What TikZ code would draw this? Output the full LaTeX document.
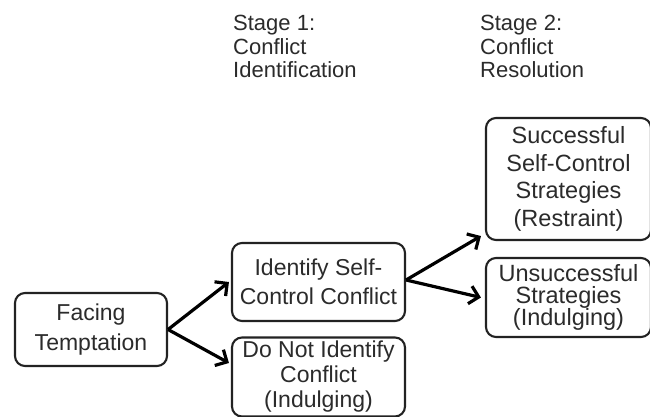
\documentclass[tikz,border=0pt]{standalone}
\usepackage{fontspec}
\setmainfont{Liberation Sans}
\usetikzlibrary{arrows.meta}
\definecolor{txt}{HTML}{2B2B2B}
\definecolor{edge}{HTML}{222222}
\begin{document}
\begin{tikzpicture}[x=1pt,y=-1pt,
 box/.style={draw=edge, line width=2.1pt, rounded corners=10pt, align=center, text=txt, inner sep=0pt},
 head/.style={align=left, text=txt, inner sep=0pt, anchor=north west, font=\fontsize{22}{23.5}\selectfont},
 arr/.style={line width=3.2pt, -{Straight Barb[length=9pt,width=18pt]}, draw=black}]
\useasboundingbox (0,0) rectangle (650,417);
\fill[white] (0,0) rectangle (650,417);
\node[head] (s1) at (233,15) {Stage 1:\\Conflict\\Identification};
\node[head] (s2) at (480,15) {Stage 2:\\Conflict\\Resolution};
\node[box, minimum width=152pt, minimum height=73pt, font=\fontsize{23}{30}\selectfont] (face) at (91,329.5) {Facing\\Temptation};
\node[box, minimum width=173pt, minimum height=78pt, font=\fontsize{23}{29}\selectfont] (ident) at (318.5,282) {Identify Self-\\Control Conflict};
\node[box, minimum width=173pt, minimum height=79pt, font=\fontsize{23}{25}\selectfont] (donot) at (318.5,377) {Do Not Identify\\Conflict\\(Indulging)};
\node[box, minimum width=165pt, minimum height=122pt, font=\fontsize{23.5}{27.5}\selectfont] (succ) at (568.5,179) {Successful\\Self-Control\\Strategies\\(Restraint)};
\node[box, minimum width=165pt, minimum height=79pt, font=\fontsize{23.5}{22}\selectfont] (unsucc) at (568.5,297.5) {Unsuccessful\\Strategies\\(Indulging)};
\draw[arr] (face.east) -- ([xshift=-2pt]ident.west);
\draw[arr] (face.east) -- ([xshift=-2pt,yshift=14pt]donot.west);
\draw[arr] ([yshift=2pt]ident.east) -- ([xshift=-4pt,yshift=5pt]succ.south west);
\draw[arr] ([yshift=2pt]ident.east) -- ([xshift=-4pt]unsucc.west);
\end{tikzpicture}
\end{document}
